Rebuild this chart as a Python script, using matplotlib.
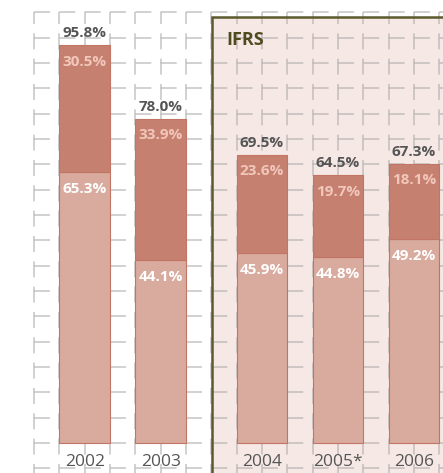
import matplotlib
matplotlib.use('Agg')
import matplotlib.pyplot as plt
from matplotlib.patches import Rectangle

plt.rcParams['font.family'] = ['Open Sans', 'DejaVu Sans']
plt.rcParams['lines.scale_dashes'] = False

# --- data ---
years = ['2002', '2003', '2004', '2005*', '2006']
lower = [65.3, 44.1, 45.9, 44.8, 49.2]
upper = [30.5, 33.9, 23.6, 19.7, 18.1]
totals = [95.8, 78.0, 69.5, 64.5, 67.3]

# --- layout (x in grid cells, y in percent) ---
CELL_PX = 25.33          # grid cell size in pixels
PX_PER_PCT = 4.15        # vertical scale
X0_PX, Y0_PX = 34, 443   # pixel position of grid origin / baseline
W_PX, H_PX = 443, 473
positions = [2, 5, 9, 12, 15]
grid_step = CELL_PX / PX_PER_PCT
PT = 0.72                # pixels -> points at 100 dpi

c_upper = '#c58070'
c_lower = '#d9aa9e'
c_edge = '#c27565'
c_grid = '#b4b0b0'

fig = plt.figure(figsize=(W_PX / 100, H_PX / 100), dpi=100)
ax = fig.add_axes([0, 0, 1, 1])
ax.set_xlim(-X0_PX / CELL_PX, (W_PX - X0_PX) / CELL_PX)
ax.set_ylim(-(H_PX - Y0_PX) / PX_PER_PCT, Y0_PX / PX_PER_PCT)
ax.axis('off')

# IFRS box background
box_left = 7.03
box_top = (Y0_PX - 17) / PX_PER_PCT
ax.add_patch(Rectangle((box_left, -20), 20, box_top + 20,
                       facecolor='#f5e8e5', edgecolor='none', zorder=0))

# dashed grid
on, off = 16 * PT, (CELL_PX - 16) * PT
grid_top = 17 * grid_step
for c in range(0, 17):
    ax.plot([c, c], [grid_top, -10], color=c_grid, lw=1.1, alpha=0.75,
            ls=(4 * PT, (on, off)), zorder=1)
for k in range(-1, 18):
    ax.plot([0, 20], [k * grid_step, k * grid_step], color=c_grid, lw=1.1,
            alpha=0.75, ls=(0, (on, off)), zorder=1)

# IFRS box border
ax.add_patch(Rectangle((box_left, -20), 20, box_top + 20,
                       facecolor='none', edgecolor='#5b5a2e', lw=1.8, zorder=2))
ax.text(7.58, 97.1, 'IFRS', fontsize=13, fontweight='bold', color='#4f4b1f',
        ha='left', va='center', zorder=5)

# stacked bars
ax.bar(positions, lower, width=2, color=c_lower, edgecolor=c_edge, lw=0.8, zorder=3)
ax.bar(positions, upper, width=2, bottom=lower, color=c_upper, edgecolor=c_edge,
       lw=0.8, zorder=3)

for x, lo, up, tot, yr in zip(positions, lower, upper, totals, years):
    ax.text(x, tot + 2.9, f'{tot:.1f}%', ha='center', va='center', fontsize=11,
            fontweight='bold', color='#555555', zorder=5)
    ax.text(x, tot - 3.9, f'{up:.1f}%', ha='center', va='center', fontsize=11,
            fontweight='bold', color='#f2c7bb', zorder=5)
    ax.text(x, lo - 4.1, f'{lo:.1f}%', ha='center', va='center', fontsize=11,
            fontweight='bold', color='white', zorder=5)
    ax.text(x, -4.6, yr, ha='center', va='center', fontsize=12.5,
            color='#555555', zorder=5)

fig.savefig('out.png', dpi=100, facecolor='white')
